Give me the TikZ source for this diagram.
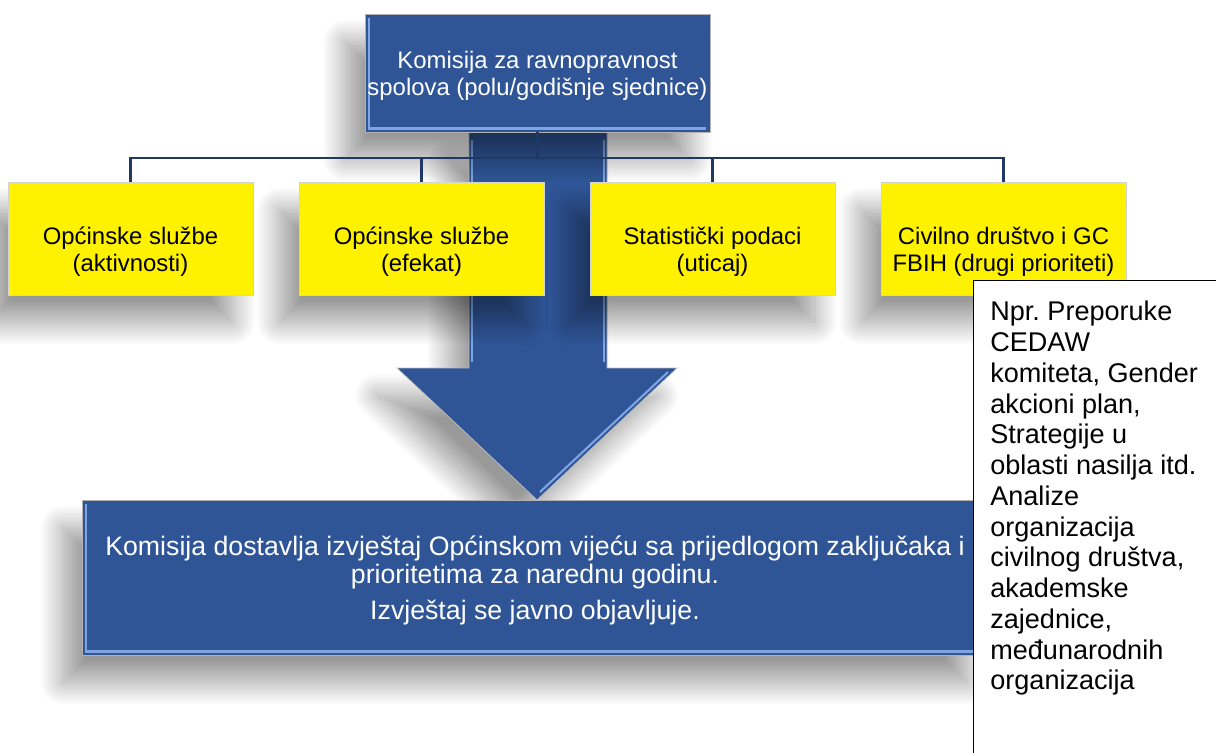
\documentclass[tikz,border=0pt]{standalone}
\usepackage{fontspec}
\setmainfont{Liberation Sans}
\usetikzlibrary{shadows,shadows.blur,calc}
\definecolor{boxblue}{RGB}{47,85,151}
\definecolor{edgeblue}{RGB}{125,165,225}
\definecolor{linenavy}{RGB}{31,56,100}
\frenchspacing

\begin{document}
\begin{tikzpicture}[
  x=0.02cm, y=-0.02cm,
  softshadow/.style={blur shadow={shadow xshift=-0.4cm, shadow yshift=-0.55cm, shadow blur radius=0.45cm,
    shadow blur steps=30, shadow opacity=40}},
  bevel/.style={path picture={
    \draw[edgeblue, line width=1.2pt]
      ([shift={(2pt,-2pt)}]path picture bounding box.north west) --
      ([shift={(2pt,2pt)}]path picture bounding box.south west) --
      ([shift={(-2pt,2pt)}]path picture bounding box.south east);}},
  bluebox/.style={softshadow, bevel, fill=boxblue, draw=gray!60, text=white, align=center},
  yellowbox/.style={softshadow, fill=yellow, draw=gray!35, minimum width=4.9cm, minimum height=2.26cm},
  boxtext/.style={align=center, font=\fontsize{13.6}{15.3}\selectfont},
  link/.style={draw=linenavy, line width=1.3pt},
  notebox/.style={draw=black, fill=white, line width=0.8pt, minimum width=5.3cm, minimum height=10cm},
  notetext/.style={align=left, inner sep=0pt, font=\fontsize{15.4}{17.5}\selectfont}
]
\useasboundingbox (0,0) rectangle (1216,753);

\filldraw[softshadow, fill=boxblue, draw=gray!50]
  (469,132) -- (607,132) -- (607,368) -- (677,368) -- (537,500)
  -- (397,368) -- (469,368) -- cycle;
\draw[edgeblue, line width=1.2pt] (472,140) -- (472,362);
\draw[edgeblue, line width=1.2pt] (604,140) -- (604,362);
\draw[edgeblue, line width=1.2pt] (668,372) -- (540,492);

\node[bluebox, minimum width=6.9cm, minimum height=2.36cm] (top) at (537.5,73) {};
\node[boxtext, text=white] (toptxt) at ([yshift=-0.05cm]top.center)
  {Komisija za ravnopravnost\\spolova (polu/godišnje sjednice)};

\node[bluebox, minimum width=18.1cm, minimum height=3.1cm] (report) at (535,577.5) {};
\node[boxtext, text=white, font=\fontsize{15.2}{16}\selectfont] (reporttxt) at ([yshift=-0.06cm]report.center)
  {Komisija dostavlja izvještaj Općinskom vijeću sa prijedlogom zaključaka i\\
   prioritetima za narednu godinu.\\[0.15cm]
   Izvještaj se javno objavljuje.};

\coordinate (hub) at (537.5,158);
\node[yellowbox] (b1) at (130.5,238.5) {};
\node[yellowbox] (b2) at (421.5,238.5) {};
\node[yellowbox] (b3) at (712.5,238.5) {};
\node[yellowbox] (b4) at (1003.5,238.5) {};
\draw[link] (top.south) -- (hub);
\foreach \b in {b1,b2,b3,b4}
  \draw[link] (hub) -| (\b.north);

\node[boxtext] (t1) at ([yshift=-0.26cm]b1.center) {Općinske službe\\(aktivnosti)};
\node[boxtext] (t2) at ([yshift=-0.26cm]b2.center) {Općinske službe\\(efekat)};
\node[boxtext] (t3) at ([yshift=-0.26cm]b3.center) {Statistički podaci\\(uticaj)};
\node[boxtext] (t4) at ([yshift=-0.26cm]b4.center) {Civilno društvo i GC\\FBIH (drugi prioriteti)};

\node[notebox, anchor=north west] (note) at (973,280) {};
\node[notetext, anchor=north west] (notetxt) at ([shift={(0.34cm,-0.42cm)}]note.north west)
  {Npr. Preporuke\\CEDAW\\komiteta, Gender\\akcioni plan,\\Strategije u\\oblasti nasilja itd.\\
   Analize\\organizacija\\civilnog društva,\\akademske\\zajednice,\\međunarodnih\\organizacija};

\end{tikzpicture}
\end{document}
